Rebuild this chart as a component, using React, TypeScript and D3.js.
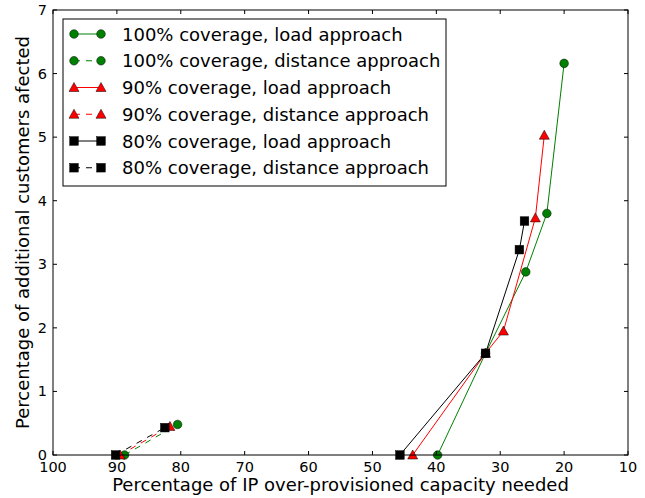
import React from "react";
import * as d3 from "d3";

const xTicks = [100, 90, 80, 70, 60, 50, 40, 30, 20, 10];
const yTicks = [0, 1, 2, 3, 4, 5, 6, 7];

const green100LoadX = [39.8, 32.3, 26.0, 22.7, 20.0];
const green100LoadY = [0, 1.6, 2.88, 3.8, 6.16];
const green100DistX = [88.8, 80.5];
const green100DistY = [0, 0.48];
const red90LoadX = [43.7, 32.3, 29.5, 24.5, 23.1];
const red90LoadY = [0, 1.6, 1.95, 3.73, 5.03];
const red90DistX = [89.5, 81.7];
const red90DistY = [0, 0.45];
const black80LoadX = [45.7, 32.3, 27.0, 26.2];
const black80LoadY = [0, 1.6, 3.23, 3.68];
const black80DistX = [90.2, 82.5];
const black80DistY = [0, 0.43];

const seriesLabels = [
  "100% coverage, load approach",
  "100% coverage, distance approach",
  "90% coverage, load approach",
  "90% coverage, distance approach",
  "80% coverage, load approach",
  "80% coverage, distance approach",
];

type Series = { xs: number[]; ys: number[]; color: string; marker: string; dashed: boolean; label: string };

const series: Series[] = [
  { xs: green100LoadX, ys: green100LoadY, color: "#008000", marker: "circle", dashed: false, label: seriesLabels[0] },
  { xs: green100DistX, ys: green100DistY, color: "#008000", marker: "circle", dashed: true, label: seriesLabels[1] },
  { xs: red90LoadX, ys: red90LoadY, color: "#ff0000", marker: "triangle", dashed: false, label: seriesLabels[2] },
  { xs: red90DistX, ys: red90DistY, color: "#ff0000", marker: "triangle", dashed: true, label: seriesLabels[3] },
  { xs: black80LoadX, ys: black80LoadY, color: "#000000", marker: "square", dashed: false, label: seriesLabels[4] },
  { xs: black80DistX, ys: black80DistY, color: "#000000", marker: "square", dashed: true, label: seriesLabels[5] },
];

const W = 645, H = 498;
const L = 53, R = 628, T = 10, B = 455;
const FONT = "DejaVu Sans, sans-serif";

function Marker({ type, x, y, color }: { type: string; x: number; y: number; color: string }) {
  if (type === "circle") return <circle cx={x} cy={y} r={4.3} fill={color} stroke="#000" strokeWidth={0.5} />;
  if (type === "square") return <rect x={x - 4.3} y={y - 4.3} width={8.6} height={8.6} fill={color} stroke="#000" strokeWidth={0.5} />;
  const s = 5;
  return <path d={`M${x},${y - s}L${x + s},${y + s * 0.8}L${x - s},${y + s * 0.8}Z`} fill={color} stroke="#000" strokeWidth={0.5} />;
}

export default function App() {
  const x = d3.scaleLinear().domain([100, 10]).range([L, R]);
  const y = d3.scaleLinear().domain([0, 7]).range([B, T]);
  const line = d3.line<[number, number]>().x((d) => x(d[0])).y((d) => y(d[1]));

  const legX = 63, legY = 19, legW = 383, legH = 167;
  const rowY = (i: number) => 34 + i * 26.75;

  return (
    <svg width={W} height={H} style={{ position: "absolute", left: 0, top: 0, background: "#fff" }}>
      <rect x={0} y={0} width={W} height={H} fill="#fff" />
      <defs>
        <clipPath id="clip">
          <rect x={L} y={T} width={R - L} height={B - T} />
        </clipPath>
      </defs>
      <g clipPath="url(#clip)">
        {series.map((s, i) => (
          <path key={"l" + i} d={line(s.xs.map((v, j) => [v, s.ys[j]] as [number, number])) || ""} fill="none"
            stroke={s.color} strokeWidth={1} strokeDasharray={s.dashed ? "6,6" : undefined} />
        ))}
      </g>
      {series.map((s, i) => (
        <g key={"m" + i}>
          {s.xs.map((v, j) => <Marker key={j} type={s.marker} x={x(v)} y={y(s.ys[j])} color={s.color} />)}
        </g>
      ))}
      <rect x={L} y={T} width={R - L} height={B - T} fill="none" stroke="#000" strokeWidth={1} />
      {xTicks.map((t) => (
        <g key={"xt" + t}>
          <line x1={x(t)} x2={x(t)} y1={B} y2={B - 4} stroke="#000" />
          <line x1={x(t)} x2={x(t)} y1={T} y2={T + 4} stroke="#000" />
          <text x={x(t)} y={471.5} textAnchor="middle" fontFamily={FONT} fontSize={14.5}>{t}</text>
        </g>
      ))}
      {yTicks.map((t) => (
        <g key={"yt" + t}>
          <line x1={L} x2={L + 4} y1={y(t)} y2={y(t)} stroke="#000" />
          <line x1={R} x2={R - 4} y1={y(t)} y2={y(t)} stroke="#000" />
          <text x={L - 6} y={y(t) + 5} textAnchor="end" fontFamily={FONT} fontSize={14.5}>{t}</text>
        </g>
      ))}
      <text x={(L + R) / 2 + 0} y={491} textAnchor="middle" fontFamily={FONT} fontSize={18}>
        Percentage of IP over-provisioned capacity needed
      </text>
      <text transform={`translate(29,${(T + B) / 2}) rotate(-90)`} textAnchor="middle" fontFamily={FONT} fontSize={18}>
        Percentage of additional customers afected
      </text>
      <rect x={legX} y={legY} width={legW} height={legH} fill="#fff" stroke="#000" strokeWidth={1} />
      {series.map((s, i) => (
        <g key={"lg" + i}>
          <line x1={74} x2={101} y1={rowY(i)} y2={rowY(i)} stroke={s.color} strokeWidth={1}
            strokeDasharray={s.dashed ? "6,6" : undefined} />
          <Marker type={s.marker} x={74} y={rowY(i)} color={s.color} />
          <Marker type={s.marker} x={101} y={rowY(i)} color={s.color} />
          <text x={122} y={rowY(i) + 6.5} fontFamily={FONT} fontSize={18}>{s.label}</text>
        </g>
      ))}
    </svg>
  );
}
